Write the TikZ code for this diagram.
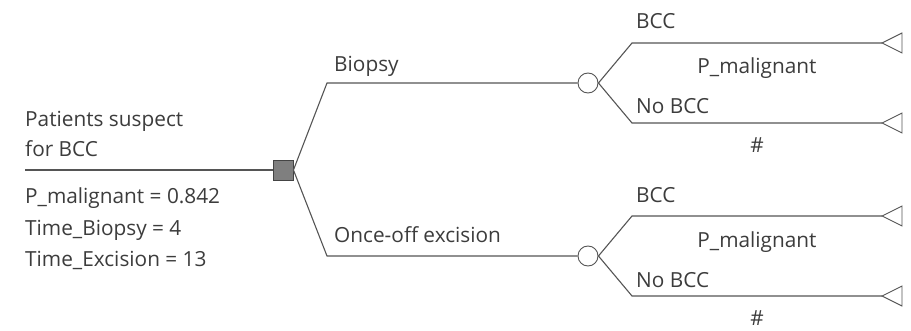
\documentclass[tikz,border=0pt]{standalone}
\usepackage{fontspec}
\setmainfont{Open Sans}
\usetikzlibrary{calc}
\definecolor{ink}{HTML}{3C3C3C}
\definecolor{edge}{HTML}{555555}
\definecolor{decfill}{HTML}{7F7F7F}
\tikzset{
  branch/.style={draw=edge, line width=1.1pt},
  decision/.style={draw=edge!80!black, fill=decfill, line width=0.9pt, minimum size=20pt, inner sep=0pt},
  chance/.style={circle, draw=edge, fill=white, line width=0.9pt, minimum size=20pt, inner sep=0pt},
  lbl/.style={text=ink, font=\fontsize{20.8}{24}\selectfont, inner sep=0pt},
}
\begin{document}
\begin{tikzpicture}[x=1pt,y=1pt]
  \useasboundingbox (0,0) rectangle (911,330);
  % root line and decision node
  \coordinate (root) at (25,160);
  \node[decision] (dec) at (283,160) {};
  \draw[branch] (root) -- (dec.west);
  % strategy vertices
  \coordinate (vb) at (327,247);
  \coordinate (ve) at (327,74);
  \node[chance] (cb) at (588,247) {};
  \node[chance] (ce) at (588,74) {};
  \draw[branch] (dec.east) -- (vb) -- (cb.west);
  \draw[branch] (dec.east) -- (ve) -- (ce.west);
  % outcome branches
  \foreach \c/\y in {b/247, e/74} {
    \coordinate (up\c) at (632,\y+40);
    \coordinate (dn\c) at (632,\y-40);
    \coordinate (tu\c) at (882,\y+40);
    \coordinate (td\c) at (882,\y-40);
    \draw[branch] (c\c.east) -- (up\c) -- (tu\c);
    \draw[branch] (c\c.east) -- (dn\c) -- (td\c);
    \draw[draw=edge, line width=0.9pt, fill=white] (tu\c) -- ++(20,10) -- ++(0,-20) -- cycle;
    \draw[draw=edge, line width=0.9pt, fill=white] (td\c) -- ++(20,10) -- ++(0,-20) -- cycle;
    \node[lbl, anchor=base west] (bcc\c) at (636,\y+54) {BCC};
    \node[lbl, anchor=base] (pm\c) at (757,\y+9) {P\_malignant};
    \node[lbl, anchor=base west] (nb\c) at (636,\y-31) {No BCC};
    \node[lbl, anchor=base] (hs\c) at (757,\y-69) {\#};
  }
  % strategy labels
  \node[lbl, anchor=base west] (lb) at (334,258) {Biopsy};
  \node[lbl, anchor=base west] (le) at (334,88) {Once-off excision};
  % root labels
  \node[lbl, anchor=base west] (r1) at (25,204) {Patients suspect};
  \node[lbl, anchor=base west] (r2) at (25,173) {for BCC};
  \node[lbl, anchor=base west] (r3) at (25,127) {P\_malignant = 0.842};
  \node[lbl, anchor=base west] (r4) at (25,95) {Time\_Biopsy = 4};
  \node[lbl, anchor=base west] (r5) at (25,64) {Time\_Excision = 13};
\end{tikzpicture}
\end{document}
